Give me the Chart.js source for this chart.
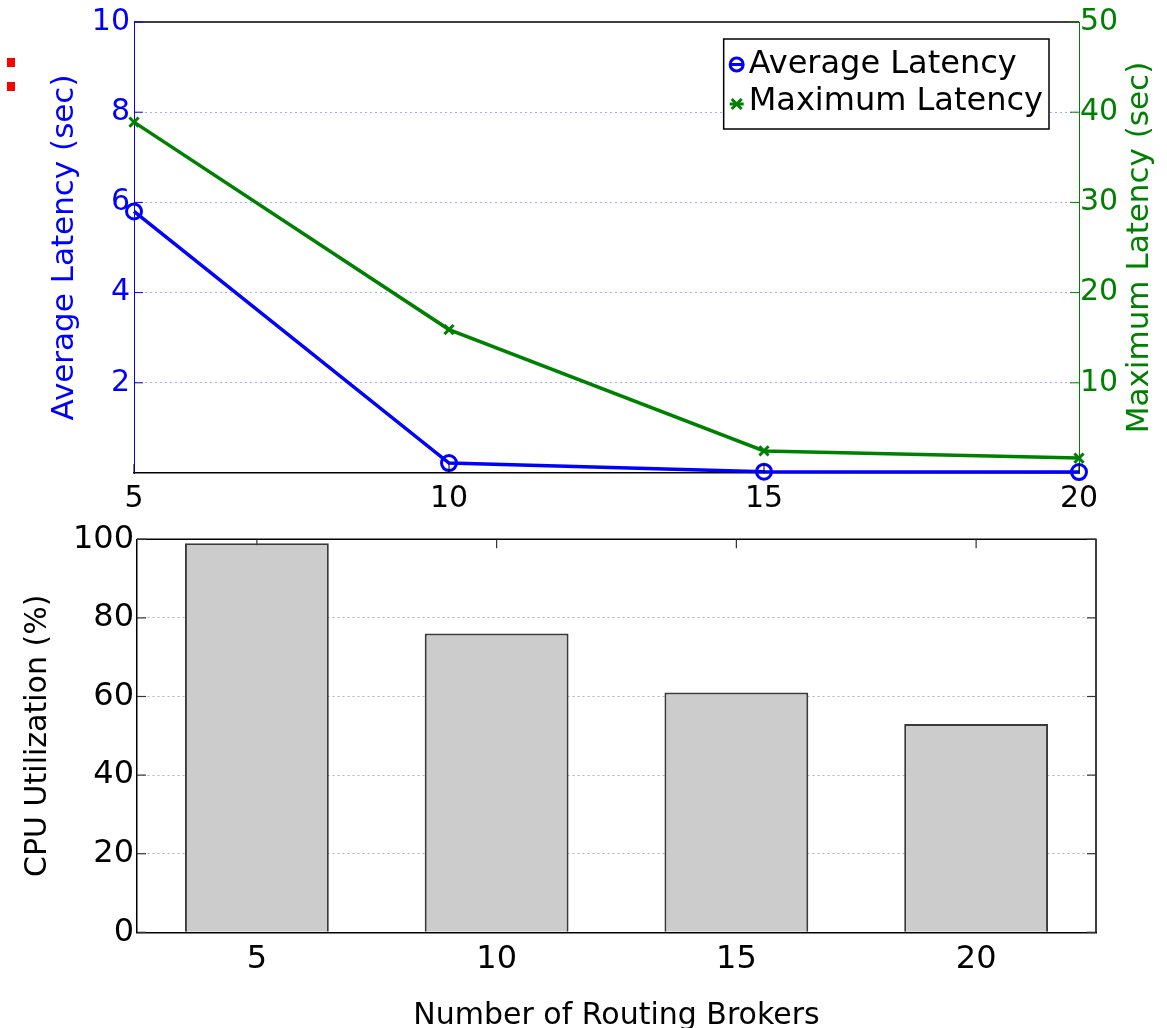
<!DOCTYPE html>
<html><head><meta charset="utf-8">
<script src="https://cdn.jsdelivr.net/npm/chart.js@4.4.0/dist/chart.umd.min.js"></script>
<style>
html,body{margin:0;padding:0;background:#fff;}
#wrap{position:relative;width:1167px;height:1028px;background:#fff;overflow:hidden;}
#top{position:absolute;left:0;top:0;}
#bot{position:absolute;left:0;top:515px;}
.dot{position:absolute;left:7px;width:8px;height:9px;background:#f00;}
</style></head><body>
<div id="wrap">
<canvas id="top" width="1167" height="515"></canvas>
<canvas id="bot" width="1167" height="513"></canvas>
<div class="dot" style="top:58px"></div><div class="dot" style="top:82px"></div>
</div>
<script>
// ---- data ----
const brokers = [5, 10, 15, 20];
const brokerLabels = ['5', '10', '15', '20'];
const avgLatency = [5.8, 0.22, 0.03, 0.02];
const maxLatency = [38.9, 15.9, 2.45, 1.65];
const cpuUtil = [99, 76, 61, 53];
const xTicksTop = [5, 10, 15, 20];
const avgTicks = [2, 4, 6, 8, 10];
const maxTicks = [10, 20, 30, 40, 50];
const cpuTicks = [0, 20, 40, 60, 80, 100];

const FAM = '"DejaVu Sans", "Liberation Sans", Arial, sans-serif';
const BLUE = '#0000ff', GREEN = '#008000';

const setTicks = arr => s => { s.ticks = arr.map(v => ({ value: v })); };

const topDeco = {
  id: 'topDeco',
  afterDraw(chart) {
    const { ctx, chartArea: ca, scales } = chart;
    ctx.save();
    ctx.strokeStyle = '#000'; ctx.lineWidth = 1.5;
    ctx.beginPath(); ctx.moveTo(ca.left, ca.top); ctx.lineTo(ca.right, ca.top); ctx.stroke();
    ctx.lineWidth = 1;
    ctx.strokeStyle = BLUE;
    scales.y.ticks.forEach(t => { const y = scales.y.getPixelForValue(t.value); ctx.beginPath(); ctx.moveTo(ca.left, y); ctx.lineTo(ca.left + 9, y); ctx.stroke(); });
    ctx.strokeStyle = GREEN;
    scales.y2.ticks.forEach(t => { const y = scales.y2.getPixelForValue(t.value); ctx.beginPath(); ctx.moveTo(ca.right, y); ctx.lineTo(ca.right - 9, y); ctx.stroke(); });
    ctx.strokeStyle = '#000';
    scales.x.ticks.forEach(t => { const x = scales.x.getPixelForValue(t.value); ctx.beginPath(); ctx.moveTo(x, ca.bottom); ctx.lineTo(x, ca.bottom - 9); ctx.stroke(); });
    ctx.save();
    ctx.font = '31px ' + FAM; ctx.fillStyle = GREEN;
    ctx.textAlign = 'center'; ctx.textBaseline = 'middle';
    ctx.translate(scales.y2.right - 27.4, (ca.top + ca.bottom) / 2);
    ctx.rotate(-Math.PI / 2);
    ctx.fillText('Maximum Latency (sec)', 0, 0);
    ctx.restore();
    ctx.font = '32px ' + FAM;
    const ds = chart.data.datasets;
    const tw = Math.max(...ds.map(d => ctx.measureText(d.label).width));
    const bw = 25 + tw + 6, bh = 90;
    const bx = ca.right - 30 - bw, by = ca.top + 17;
    ctx.fillStyle = '#fff'; ctx.fillRect(bx, by, bw, bh);
    ctx.strokeStyle = '#000'; ctx.lineWidth = 1.5; ctx.strokeRect(bx, by, bw, bh);
    const rowsText = [by + 26, by + 63];
    const rowsMark = [by + 25.5, by + 65];
    ds.forEach((d, i) => {
      const mx = bx + 13, my = rowsMark[i];
      ctx.strokeStyle = d.borderColor; ctx.lineWidth = 3;
      ctx.beginPath(); ctx.moveTo(mx - 7, my); ctx.lineTo(mx + 7, my); ctx.stroke();
      ctx.beginPath();
      if (d.pointStyle === 'circle') {
        ctx.arc(mx, my, 6.5, 0, Math.PI * 2);
      } else {
        ctx.moveTo(mx - 5, my - 5); ctx.lineTo(mx + 5, my + 5);
        ctx.moveTo(mx - 5, my + 5); ctx.lineTo(mx + 5, my - 5);
      }
      ctx.stroke();
      ctx.fillStyle = '#000'; ctx.textAlign = 'left'; ctx.textBaseline = 'middle';
      ctx.fillText(d.label, bx + 25, rowsText[i]);
    });
    ctx.restore();
  }
};

new Chart(document.getElementById('top'), {
  type: 'line',
  data: {
    datasets: [
      { label: 'Average Latency', data: brokers.map((x, i) => ({ x, y: avgLatency[i] })), yAxisID: 'y',
        borderColor: BLUE, backgroundColor: BLUE, borderWidth: 3.5, pointStyle: 'circle', pointRadius: 7.5,
        pointBorderWidth: 3, pointBackgroundColor: 'rgba(0,0,0,0)', pointBorderColor: BLUE, clip: false, tension: 0 },
      { label: 'Maximum Latency', data: brokers.map((x, i) => ({ x, y: maxLatency[i] })), yAxisID: 'y2',
        borderColor: GREEN, backgroundColor: GREEN, borderWidth: 3.5, pointStyle: 'crossRot', pointRadius: 6.5,
        pointBorderWidth: 3, pointBorderColor: GREEN, clip: false, tension: 0 }
    ]
  },
  options: {
    responsive: false, animation: false, devicePixelRatio: 1, events: [],
    layout: { padding: { top: 22, left: 0, right: 0, bottom: 0 } },
    plugins: { legend: { display: false }, tooltip: { enabled: false } },
    scales: {
      x: { type: 'linear', min: 5, max: 20, afterBuildTicks: setTicks(xTicksTop),
        ticks: { color: '#000', font: { family: FAM, size: 30 }, padding: 8, maxRotation: 0 },
        grid: { display: false, drawTicks: false }, border: { color: '#000', width: 1.5 },
        afterFit: s => { s.height = 42; } },
      y: { position: 'left', min: 0, max: 10, afterBuildTicks: setTicks(avgTicks),
        ticks: { color: BLUE, font: { family: FAM, size: 30 }, padding: 4 },
        grid: { drawTicks: false, lineWidth: 1, color: c => (c.tick && c.tick.value === 10) ? 'rgba(0,0,0,0)' : '#a8a8ff' },
        border: { color: BLUE, width: 1, dash: [2, 3] },
        title: { display: true, text: 'Average Latency (sec)', color: BLUE, font: { family: FAM, size: 31 }, padding: { top: 46.8, bottom: 0 } },
        afterFit: s => { s.width = 134; } },
      y2: { position: 'right', min: 0, max: 50, afterBuildTicks: setTicks(maxTicks),
        ticks: { color: GREEN, font: { family: FAM, size: 30 }, padding: 1 },
        grid: { drawOnChartArea: false, drawTicks: false }, border: { color: GREEN, width: 1 },
        afterFit: s => { s.width = 88; } }
    }
  },
  plugins: [topDeco]
});

const botDeco = {
  id: 'botDeco',
  beforeDatasetsDraw(chart) {
    const { ctx, chartArea: ca, scales } = chart;
    ctx.save();
    ctx.strokeStyle = '#000'; ctx.lineWidth = 1.5;
    ctx.beginPath(); ctx.moveTo(ca.left, ca.top); ctx.lineTo(ca.right, ca.top); ctx.lineTo(ca.right, ca.bottom); ctx.stroke();
    ctx.strokeStyle = '#333'; ctx.lineWidth = 1.2;
    scales.y.ticks.forEach(t => {
      const y = scales.y.getPixelForValue(t.value);
      ctx.beginPath(); ctx.moveTo(ca.left, y); ctx.lineTo(ca.left + 9, y); ctx.stroke();
      ctx.beginPath(); ctx.moveTo(ca.right, y); ctx.lineTo(ca.right - 9, y); ctx.stroke();
    });
    scales.x.ticks.forEach((t, i) => {
      const x = scales.x.getPixelForValue(i);
      ctx.beginPath(); ctx.moveTo(x, ca.top); ctx.lineTo(x, ca.top + 9); ctx.stroke();
    });
    ctx.restore();
  }
};

new Chart(document.getElementById('bot'), {
  type: 'bar',
  data: {
    labels: brokerLabels,
    datasets: [{ label: 'CPU Utilization', data: cpuUtil, backgroundColor: '#cccccc', borderColor: '#3a3a3a',
      borderWidth: 2, barPercentage: 0.6, categoryPercentage: 1 }]
  },
  options: {
    responsive: false, animation: false, devicePixelRatio: 1, events: [],
    layout: { padding: { top: 24.3, right: 71, left: 0, bottom: 0 } },
    plugins: { legend: { display: false }, tooltip: { enabled: false } },
    scales: {
      x: { ticks: { color: '#000', font: { family: FAM, size: 32 }, padding: 8 },
        grid: { display: false, drawTicks: false }, border: { color: '#000', width: 1.5 },
        title: { display: true, text: 'Number of Routing Brokers', color: '#000', font: { family: FAM, size: 30, lineHeight: 0.8 }, padding: { top: 0, bottom: 0 } },
        afterFit: s => { s.height = 95.7; } },
      y: { min: 0, max: 100, afterBuildTicks: setTicks(cpuTicks),
        ticks: { color: '#000', font: { family: FAM, size: 32 }, padding: 3 },
        grid: { drawTicks: false, lineWidth: 1, color: c => (c.tick && (c.tick.value === 0 || c.tick.value === 100)) ? 'rgba(0,0,0,0)' : '#b3b3b3' },
        border: { color: '#000', width: 1.5, dash: [2, 3] },
        title: { display: true, text: 'CPU Utilization (%)', color: '#000', font: { family: FAM, size: 30 }, padding: { top: 20, bottom: 0 } },
        afterFit: s => { s.width = 137; } }
    }
  },
  plugins: [botDeco]
});
</script>
</body></html>
